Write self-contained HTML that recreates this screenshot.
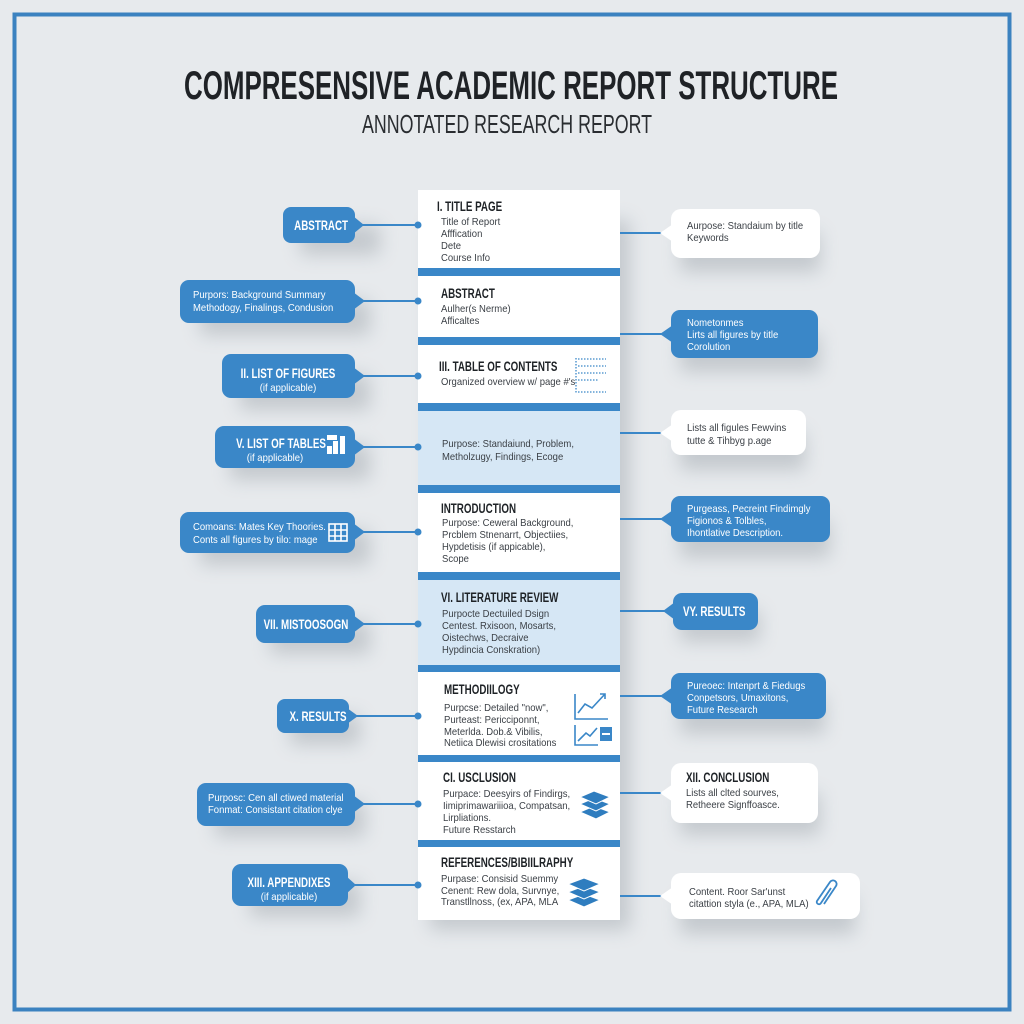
<!DOCTYPE html>
<html><head><meta charset="utf-8"><style>
html,body{margin:0;padding:0;background:#e7eaed;}
svg{display:block}
text{font-family:"Liberation Sans Narrow","Liberation Sans",sans-serif;transform-box:fill-box;transform-origin:0 50%;}
.h{font-weight:bold;font-size:14px;fill:#1e2226;transform:scaleX(0.7)}
.b{font-size:10px;fill:#3a3f45;transform:scaleX(0.95)}
.w{font-size:10px;fill:#fff;transform:scaleX(0.95)}
.wh{font-weight:bold;font-size:14px;fill:#fff;transform:scaleX(0.7)}
.c{transform-origin:50% 50%}
</style></head><body>
<svg width="1024" height="1024" viewBox="0 0 1024 1024" xmlns="http://www.w3.org/2000/svg">
<defs>
<filter id="sh" x="-30%" y="-30%" width="160%" height="200%"><feGaussianBlur stdDeviation="9"/></filter>
</defs>
<rect width="1024" height="1024" fill="#e7eaed"/>
<rect x="14.5" y="14.5" width="995" height="995" fill="none" stroke="#3b82c0" stroke-width="4"/>
<text x="511" y="99" text-anchor="middle" font-size="40" font-weight="bold" fill="#1f2226" textLength="654" lengthAdjust="spacingAndGlyphs">COMPRESENSIVE ACADEMIC REPORT STRUCTURE</text>
<text x="507" y="133" text-anchor="middle" font-size="26" fill="#2a2d31" textLength="290" lengthAdjust="spacingAndGlyphs">ANNOTATED RESEARCH REPORT</text>

<!-- shadows -->
<g fill="#9aa1a8" opacity="0.45" filter="url(#sh)">
<rect x="300" y="225" width="80" height="30"/><rect x="200" y="300" width="170" height="35"/>
<rect x="240" y="375" width="130" height="35"/><rect x="230" y="445" width="140" height="35"/>
<rect x="200" y="530" width="170" height="35"/><rect x="270" y="622" width="100" height="32"/>
<rect x="290" y="715" width="70" height="30"/><rect x="215" y="802" width="150" height="35"/>
<rect x="250" y="882" width="110" height="35"/>
<rect x="680" y="232" width="140" height="40"/><rect x="680" y="334" width="140" height="38"/>
<rect x="680" y="432" width="125" height="38"/><rect x="680" y="520" width="150" height="38"/>
<rect x="680" y="610" width="80" height="32"/><rect x="680" y="696" width="145" height="38"/>
<rect x="680" y="793" width="140" height="42"/><rect x="680" y="896" width="175" height="38"/>
<rect x="430" y="220" width="200" height="710"/>
</g>

<!-- central column -->
<rect x="418" y="190" width="202" height="730" fill="#fff"/>
<rect x="418" y="411" width="202" height="75" fill="#d6e7f5"/>
<rect x="418" y="580" width="202" height="85" fill="#d6e7f5"/>
<g fill="#3a87c8">
<rect x="418" y="268" width="202" height="8"/><rect x="418" y="337" width="202" height="8"/>
<rect x="418" y="403" width="202" height="8"/><rect x="418" y="485" width="202" height="8"/>
<rect x="418" y="572" width="202" height="8"/><rect x="418" y="665" width="202" height="7"/>
<rect x="418" y="755" width="202" height="7"/><rect x="418" y="840" width="202" height="7"/>
</g>
<text class="h" x="437" y="211">I. TITLE PAGE</text>
<text class="b" x="441" y="225">Title of Report</text><text class="b" x="441" y="237">Afffication</text>
<text class="b" x="441" y="249">Dete</text><text class="b" x="441" y="261">Course Info</text>
<text class="h" x="441" y="298">ABSTRACT</text>
<text class="b" x="441" y="312">Aulher(s Nerme)</text><text class="b" x="441" y="324">Afficaltes</text>
<text class="h" x="439" y="371">III. TABLE OF CONTENTS</text>
<text class="b" x="441" y="385">Organized overview w/ page #'s</text>
<g stroke="#3a87c8" stroke-width="1.3" stroke-dasharray="1.5 1.5" fill="none">
<line x1="576" y1="358" x2="576" y2="393"/><line x1="578" y1="359" x2="606" y2="359"/>
<line x1="578" y1="366" x2="606" y2="366"/><line x1="578" y1="373" x2="606" y2="373"/>
<line x1="578" y1="380" x2="598" y2="380"/><line x1="578" y1="392" x2="606" y2="392"/>
</g>
<text class="b" x="442" y="447">Purpose: Standaiund, Problem,</text>
<text class="b" x="442" y="460">Metholzugy, Findings, Ecoge</text>
<text class="h" x="441" y="513">INTRODUCTION</text>
<text class="b" x="442" y="526">Purpose: Ceweral Background,</text><text class="b" x="442" y="538">Prcblem Stnenarrt, Objectiies,</text>
<text class="b" x="442" y="550">Hypdetisis (if appicable),</text><text class="b" x="442" y="562">Scope</text>
<text class="h" x="441" y="602">VI. LITERATURE REVIEW</text>
<text class="b" x="442" y="617">Purpocte  Dectuiled Dsign</text><text class="b" x="442" y="629">Centest. Rxisoon,  Mosarts,</text>
<text class="b" x="442" y="641">Oistechws, Decraive</text><text class="b" x="442" y="653">Hypdincia Conskration)</text>
<text class="h" x="444" y="694">METHODIILOGY</text>
<text class="b" x="444" y="711">Purpcse: Detailed "now",</text><text class="b" x="444" y="723">Purteast: Pericciponnt,</text>
<text class="b" x="444" y="735">Meterlda. Dob.&amp; Vibilis,</text><text class="b" x="444" y="746">Netiica Dlewisi crositations</text>
<g stroke="#3a87c8" stroke-width="1.6" fill="none">
<polyline points="575,694 575,719 608,719"/><polyline points="578,713 585,704 592,708 605,694"/><polyline points="600,694 605,694 605,699"/>
<polyline points="575,725 575,745 598,745"/><polyline points="578,741 586,733 590,736 597,728"/>
</g>
<rect x="600" y="727" width="12" height="14" fill="#3a87c8"/><rect x="602" y="733" width="8" height="2" fill="#fff"/>
<text class="h" x="443" y="782">CI. USCLUSION</text>
<text class="b" x="443" y="797">Purpace: Deesyirs of Findirgs,</text><text class="b" x="443" y="809">Iimiprimawariiioa, Compatsan,</text>
<text class="b" x="443" y="821">Lirpliations.</text><text class="b" x="443" y="833">Future Resstarch</text>
<g fill="#2f7dbf" stroke="#fff" stroke-width="1">
<path d="M580,812 l14,-6 l16,6 l-14,7 z"/><path d="M580,804 l14,-6 l16,6 l-14,7 z"/><path d="M580,797 l14,-6 l16,6 l-14,7 z"/>
</g>
<text class="h" x="441" y="867">REFERENCES/BIBIILRAPHY</text>
<text class="b" x="441" y="882">Purpase: Consisid Suemmy</text><text class="b" x="441" y="894">Cenent: Rew dola, Survnye,</text>
<text class="b" x="441" y="905">Transtllnoss, (ex, APA, MLA</text>
<g fill="#2f7dbf" stroke="#fff" stroke-width="1">
<path d="M568,900 l16,-6 l16,6 l-16,7 z"/><path d="M568,892 l16,-6 l16,6 l-16,7 z"/><path d="M568,884 l16,-6 l16,6 l-16,7 z"/>
</g>

<!-- connectors -->
<g stroke="#3a87c8" stroke-width="2">
<line x1="362" y1="225" x2="418" y2="225"/><line x1="362" y1="301" x2="418" y2="301"/>
<line x1="362" y1="376" x2="418" y2="376"/><line x1="362" y1="447" x2="418" y2="447"/>
<line x1="362" y1="532" x2="418" y2="532"/><line x1="362" y1="624" x2="418" y2="624"/>
<line x1="356" y1="716" x2="418" y2="716"/><line x1="362" y1="804" x2="418" y2="804"/>
<line x1="354" y1="885" x2="418" y2="885"/>
<line x1="620" y1="233" x2="662" y2="233"/><line x1="620" y1="334" x2="662" y2="334"/>
<line x1="620" y1="433" x2="662" y2="433"/><line x1="620" y1="519" x2="662" y2="519"/>
<line x1="620" y1="611" x2="665" y2="611"/><line x1="620" y1="696" x2="662" y2="696"/>
<line x1="620" y1="793" x2="662" y2="793"/><line x1="620" y1="896" x2="662" y2="896"/>
</g>
<g fill="#3a87c8">
<circle cx="418" cy="225" r="3.5"/><circle cx="418" cy="301" r="3.5"/><circle cx="418" cy="376" r="3.5"/>
<circle cx="418" cy="447" r="3.5"/><circle cx="418" cy="532" r="3.5"/><circle cx="418" cy="624" r="3.5"/>
<circle cx="418" cy="716" r="3.5"/><circle cx="418" cy="804" r="3.5"/><circle cx="418" cy="885" r="3.5"/>
</g>

<!-- left callouts -->
<g fill="#3a87c8">
<rect x="283" y="207" width="72" height="36" rx="8"/><polygon points="353,216 364,225 353,234"/>
<rect x="180" y="280" width="175" height="43" rx="9"/><polygon points="353,292 365,301 353,310"/>
<rect x="222" y="354" width="133" height="44" rx="9"/><polygon points="353,367 365,376 353,385"/>
<rect x="215" y="426" width="140" height="42" rx="9"/><polygon points="353,438 365,447 353,456"/>
<rect x="180" y="512" width="175" height="41" rx="9"/><polygon points="353,523 365,532 353,541"/>
<rect x="256" y="605" width="99" height="38" rx="9"/><polygon points="353,615 365,624 353,633"/>
<rect x="277" y="699" width="72" height="34" rx="8"/><polygon points="347,708 358,716 347,724"/>
<rect x="197" y="783" width="158" height="43" rx="9"/><polygon points="353,795 365,804 353,813"/>
<rect x="232" y="864" width="116" height="42" rx="9"/><polygon points="346,876 356,885 346,894"/>
</g>
<text class="wh c" x="321" y="230" text-anchor="middle">ABSTRACT</text>
<text class="w" x="193" y="298">Purpors: Background Summary</text><text class="w" x="193" y="311">Methodogy, Finalings, Condusion</text>
<text class="wh c" x="288" y="378" text-anchor="middle">II. LIST OF FIGURES</text>
<text class="w c" x="288" y="391" text-anchor="middle">(if applicable)</text>
<text class="wh c" x="281" y="448" text-anchor="middle">V. LIST OF TABLES</text>
<text class="w c" x="275" y="461" text-anchor="middle">(if applicable)</text>
<g fill="#fff"><rect x="327" y="435" width="10" height="5"/><rect x="327" y="446" width="5" height="8"/><rect x="333" y="441" width="5" height="13"/><rect x="340" y="436" width="5" height="18"/></g>
<text class="w" x="193" y="530">Comoans: Mates Key Thoories.</text><text class="w" x="193" y="543">Conts all figures by tilo: mage</text>
<g fill="none" stroke="#fff" stroke-width="1.6"><rect x="329" y="524" width="18" height="17"/><line x1="329" y1="530" x2="347" y2="530"/><line x1="329" y1="536" x2="347" y2="536"/><line x1="335" y1="524" x2="335" y2="541"/><line x1="341" y1="524" x2="341" y2="541"/></g>
<text class="wh c" x="306" y="629" text-anchor="middle">VII. MISTOOSOGN</text>
<text class="wh c" x="318" y="721" text-anchor="middle">X. RESULTS</text>
<text class="w" x="208" y="801">Purposc: Cen all ctiwed material</text><text class="w" x="208" y="813">Fonmat: Consistant citation clye</text>
<text class="wh c" x="289" y="887" text-anchor="middle">XIII. APPENDIXES</text>
<text class="w c" x="289" y="900" text-anchor="middle">(if applicable)</text>

<!-- right callouts -->
<g fill="#fff">
<rect x="671" y="209" width="149" height="49" rx="10"/><polygon points="673,224 660,233 673,242"/>
<rect x="671" y="410" width="135" height="45" rx="10"/><polygon points="673,424 660,433 673,442"/>
<rect x="671" y="763" width="147" height="60" rx="10"/><polygon points="673,784 660,793 673,802"/>
<rect x="671" y="873" width="189" height="46" rx="10"/><polygon points="673,887 660,896 673,905"/>
</g>
<g fill="#3a87c8">
<rect x="671" y="310" width="147" height="48" rx="9"/><polygon points="673,325 660,334 673,343"/>
<rect x="671" y="496" width="159" height="46" rx="9"/><polygon points="673,510 660,519 673,528"/>
<rect x="673" y="593" width="85" height="37" rx="9"/><polygon points="675,602 663,611 675,620"/>
<rect x="671" y="673" width="155" height="46" rx="9"/><polygon points="673,687 660,696 673,705"/>
</g>
<text class="b" x="687" y="229">Aurpose: Standaium by title</text><text class="b" x="687" y="241">Keywords</text>
<text class="w" x="687" y="326">Nometonmes</text><text class="w" x="687" y="338">Lirts all figures by title</text><text class="w" x="687" y="350">Corolution</text>
<text class="b" x="687" y="431">Lists all figules Fewvins</text><text class="b" x="687" y="444">tutte &amp; Tihbyg p.age</text>
<text class="w" x="687" y="512">Purgeass, Pecreint Findimgly</text><text class="w" x="687" y="524">Figionos &amp; Tolbles,</text><text class="w" x="687" y="536">Ihontlative Description.</text>
<text class="wh" x="683" y="616">VY. RESULTS</text>
<text class="w" x="687" y="689">Pureoec: Intenprt &amp; Fiedugs</text><text class="w" x="687" y="701">Conpetsors, Umaxitons,</text><text class="w" x="687" y="713">Future Research</text>
<text class="h" x="686" y="782">XII. CONCLUSION</text>
<text class="b" x="686" y="796">Lists all  clted sourves,</text><text class="b" x="686" y="808">Retheere Signffoasce.</text>
<text class="b" x="689" y="895">Content. Roor Sar'unst</text><text class="b" x="689" y="907">citattion styla (e., APA, MLA)</text>
<path d="M824,904 l12,-18 a3.5,3.5 0 0 0 -6,-4 l-13,19 a2,2 0 0 0 4,2 l10,-15" fill="none" stroke="#3a87c8" stroke-width="1.8"/>
</svg>
</body></html>
